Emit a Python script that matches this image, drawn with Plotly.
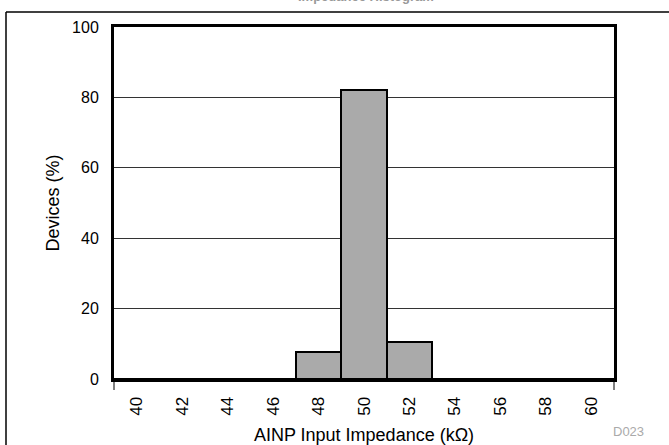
import plotly.graph_objects as go

# Histogram data (bin centers, % of devices)
bin_centers = [40, 42, 44, 46, 48, 50, 52, 54, 56, 58, 60]
devices_pct = [0, 0, 0, 0, 7.7, 82.0, 10.6, 0, 0, 0, 0]
x_ticks = [40, 42, 44, 46, 48, 50, 52, 54, 56, 58, 60]
y_ticks = [0, 20, 40, 60, 80, 100]

W, H = 669, 445
L, R, T, B = 114, 55, 27, 66
PW, PH = W - L - R, H - T - B

def px_x(px):
    return (px - L) / PW

def px_y(py):
    return (H - B - py) / PH

FONT = "Liberation Sans, Arial, sans-serif"

fig = go.Figure()
fig.add_trace(go.Bar(
    x=bin_centers, y=devices_pct, width=2,
    marker=dict(color="#aaaaaa", line=dict(color="black", width=2)),
    showlegend=False,
))

fig.update_layout(
    width=W, height=H,
    margin=dict(l=L, r=R, t=T, b=B, pad=0, autoexpand=False),
    paper_bgcolor="white", plot_bgcolor="white",
    font=dict(family=FONT, color="black"),
    bargap=0,
    xaxis=dict(
        range=[39, 61], tickvals=x_ticks, ticktext=[str(v) for v in x_ticks],
        tickangle=-90, tickfont=dict(size=17), ticks="", ticklabelstandoff=8,
        showgrid=False, zeroline=False, automargin=False,
        showline=True, linecolor="black", linewidth=3, mirror=True,
        title=dict(text="AINP Input Impedance (kΩ)", font=dict(size=18), standoff=16),
    ),
    yaxis=dict(
        range=[0, 100], tickvals=y_ticks, tickfont=dict(size=16), ticks="",
        ticklabelstandoff=9, automargin=False,
        showgrid=True, gridcolor="#333333", gridwidth=1, zeroline=False,
        showline=True, linecolor="black", linewidth=3, mirror=True,
        title=dict(text="Devices (%)", font=dict(size=18), standoff=8),
    ),
    shapes=[
        # outer frame (left and top edges)
        dict(type="line", xref="paper", yref="paper", x0=px_x(6), x1=px_x(680),
             y0=px_y(12), y1=px_y(12), line=dict(color="black", width=1.5)),
        dict(type="line", xref="paper", yref="paper", x0=px_x(6), x1=px_x(6),
             y0=px_y(12), y1=px_y(460), line=dict(color="black", width=1.5)),
        # edge ticks below x axis
        dict(type="line", xref="paper", yref="paper", x0=0, x1=0,
             y0=0, y1=px_y(390), line=dict(color="black", width=1)),
        dict(type="line", xref="paper", yref="paper", x0=1, x1=1,
             y0=0, y1=px_y(390), line=dict(color="black", width=1)),
    ],
    annotations=[
        dict(text="D023", xref="paper", yref="paper", x=px_x(628), y=px_y(431),
             xanchor="center", yanchor="middle", showarrow=False,
             font=dict(size=13, color="#aaaaaa")),
        dict(text="<b>Impedance Histogram</b>", xref="paper", yref="paper",
             x=px_x(366), y=px_y(6), xanchor="center", yanchor="bottom",
             showarrow=False, font=dict(size=13, color="#999999")),
    ],
)

fig.write_html("out.html", config={"displayModeBar": False},
               post_script="document.body.style.margin='0';")
